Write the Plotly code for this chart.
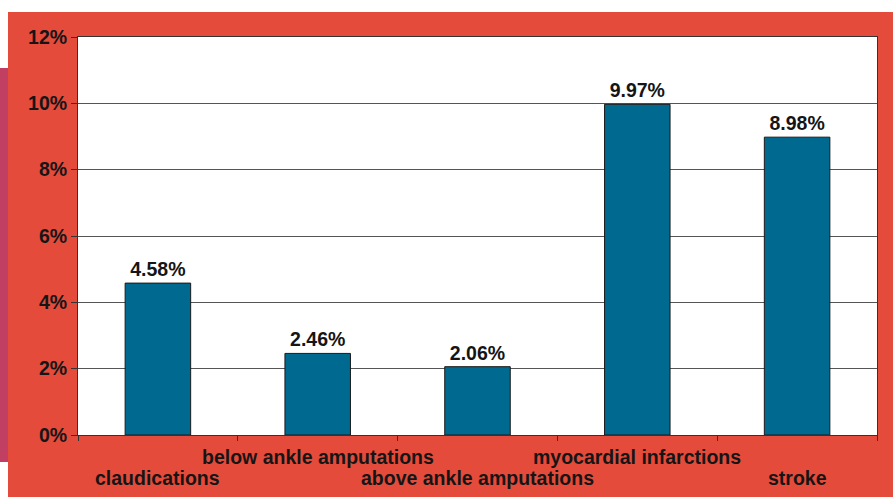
import plotly.graph_objects as go

categories = ["claudications", "below ankle amputations", "above ankle amputations",
              "myocardial infarctions", "stroke"]
values = [4.58, 2.46, 2.06, 9.97, 8.98]
value_labels = ["4.58%", "2.46%", "2.06%", "9.97%", "8.98%"]
y_ticks = [0, 2, 4, 6, 8, 10, 12]
y_tick_labels = ["0%", "2%", "4%", "6%", "8%", "10%", "12%"]

RED = "#e54b3b"
MAGENTA = "#c13f63"
BAR = "#006990"
TXT = "#151515"
FONT = "Arial, 'Liberation Sans', sans-serif"
FS = 19.5

fig = go.Figure()
fig.add_trace(go.Bar(
    x=categories, y=values,
    marker=dict(color=BAR, line=dict(color="#1a1a1a", width=1)),
    text=["<b>%s</b>" % t for t in value_labels], textposition="outside",
    textfont=dict(family=FONT, size=FS, color=TXT),
    cliponaxis=False,
))

# staggered category labels
for i, c in enumerate(categories):
    fig.add_annotation(x=c, xref="x", y=0, yref="paper", text="<b>%s</b>" % c,
                       showarrow=False, yanchor="middle",
                       yshift=-22 if i % 2 else -43,
                       font=dict(family=FONT, size=FS, color=TXT))

shapes = [
    dict(type="rect", xref="paper", yref="paper", x0=-0.3, x1=1.3,
         y0=(435 - 12) / 398, y1=1.3, fillcolor="white", line=dict(width=0), layer="below"),
    dict(type="rect", xref="paper", yref="paper", x0=-0.3, x1=(8 - 78) / 799,
         y0=-0.3, y1=1.3, fillcolor="white", line=dict(width=0), layer="below"),
    dict(type="rect", xref="paper", yref="paper", x0=-0.3, x1=(8 - 78) / 799,
         y0=(435 - 462) / 398, y1=(435 - 68) / 398, fillcolor=MAGENTA,
         line=dict(width=0), layer="below"),
]

fig.update_layout(
    width=893, height=497,
    margin=dict(l=78, r=16, t=37, b=62),
    paper_bgcolor=RED, plot_bgcolor="white",
    showlegend=False, bargap=0.59,
    font=dict(family=FONT, size=FS, color=TXT),
    shapes=shapes,
    xaxis=dict(showticklabels=False, ticks="outside", tickson="boundaries",
               ticklen=5, tickcolor="#333", showline=True, linecolor="#333",
               linewidth=1, mirror=True, showgrid=False),
    yaxis=dict(range=[0, 12], tickvals=y_ticks,
               ticktext=["<b>%s</b>" % t for t in y_tick_labels],
               ticks="outside", ticklen=6, tickcolor="#333",
               showline=True, linecolor="#333", linewidth=1, mirror=True,
               showgrid=True, gridcolor="#555", gridwidth=1, zeroline=False,
               tickfont=dict(family=FONT, size=FS, color=TXT)),
)

fig.write_html("out.html")
